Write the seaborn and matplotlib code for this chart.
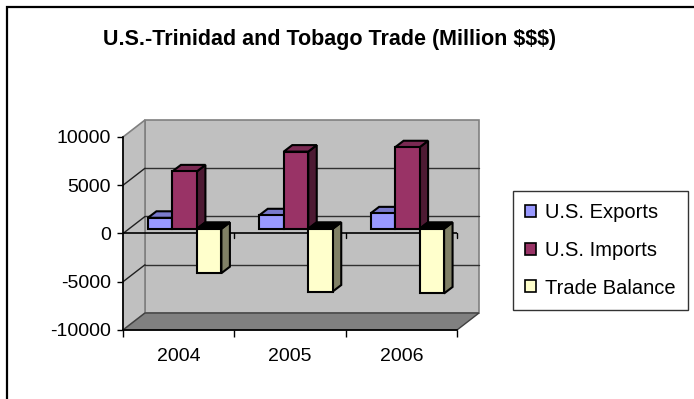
import numpy as np
import pandas as pd
import matplotlib
matplotlib.use("Agg")
import matplotlib.pyplot as plt
from matplotlib.patches import Polygon, Rectangle, Patch
import seaborn as sns

# ---- data -------------------------------------------------------------
years = ["2004", "2005", "2006"]
series = ["U.S. Exports", "U.S. Imports", "Trade Balance"]
exports = [1140, 1400, 1600]
imports = [5950, 8000, 8450]
balance = [-4600, -6500, -6700]
y_ticks = [-10000, -5000, 0, 5000, 10000]
title = "U.S.-Trinidad and Tobago Trade (Million $$$)"

# ---- style --------------------------------------------------------------
face_colors = ["#9999FF", "#993366", "#FFFFCC"]
top_colors = ["#7A7ACC", "#7A2952", "#000000"]
side_colors = ["#4D4D80", "#4D1A33", "#808066"]
wall_color = "#C0C0C0"
floor_color = "#808080"

sns.set_theme(style="white")
plt.rcParams["font.family"] = ["Liberation Sans", "DejaVu Sans"]

W, H = 694, 399
fig = plt.figure(figsize=(W / 100, H / 100), dpi=100)
fig.patch.set_facecolor("white")

# front plane of the 3-D box, in figure pixels
L, R, T, B = 123, 457, 137, 330
ax = fig.add_axes([L / W, 1 - B / H, (R - L) / W, (B - T) / H])
ax.patch.set_visible(False)

df = pd.DataFrame({
    "Year": years * 3,
    "Series": np.repeat(series, len(years)),
    "Value": exports + imports + balance,
})
sns.barplot(data=df, x="Year", y="Value", hue="Series", order=years,
            hue_order=series, palette=face_colors, saturation=1,
            width=0.66, edgecolor="black", linewidth=1.5,
            errorbar=None, legend=False, ax=ax)

xmin, xmax, ymin, ymax = -0.5, 2.5, y_ticks[0], y_ticks[-1]
ax.set_xlim(xmin, xmax)
ax.set_ylim(ymin, ymax)

# pixel -> data conversion for the oblique depth offsets
sx = (xmax - xmin) / (R - L)
sy = (ymax - ymin) / (B - T)
wx, wy = 22 * sx, 17 * sy          # depth of the whole box
bx, by = 6 * sx, 4.7 * sy          # where the bar fronts sit in depth
dx, dy = 8.5 * sx, 6.5 * sy        # depth of each bar

# walls and floor
ax.add_patch(Rectangle((xmin + wx, ymin + wy), xmax - xmin, ymax - ymin,
                       fc=wall_color, ec="#808080", lw=1.2, zorder=0.3,
                       clip_on=False))
ax.add_patch(Polygon([(xmin, ymin), (xmin, ymax), (xmin + wx, ymax + wy),
                      (xmin + wx, ymin + wy)], closed=True, fc=wall_color,
                     ec="#808080", lw=1.2, zorder=0.4, clip_on=False))
ax.add_patch(Polygon([(xmin, ymin), (xmax, ymin), (xmax + wx, ymin + wy),
                      (xmin + wx, ymin + wy)], closed=True, fc=floor_color,
                     ec="#404040", lw=1, zorder=0.5, clip_on=False))

# gridlines on the back wall and their diagonals on the side wall
for v in y_ticks[1:-1]:
    ax.plot([xmin + wx, xmax + wx], [v + wy, v + wy], color="#303030",
            lw=1, zorder=0.6, clip_on=False)
    ax.plot([xmin, xmin + wx], [v, v + wy], color="#202020", lw=1,
            zorder=0.6, clip_on=False)

# category axis at zero, with its tick marks
ax.plot([xmin, xmax], [0, 0], color="black", lw=1.2, zorder=0.8)
for xt in [0.5, 1.5, 2.5]:
    ax.plot([xt, xt], [0, -5 * sy], color="black", lw=1, zorder=0.8,
            clip_on=False)

# turn the flat bars into blocks: front face, top face, side face
bars = []
for k, cont in enumerate(ax.containers):
    for bar in cont:
        bars.append((bar.get_x(), k, bar))
bars.sort(key=lambda t: t[0])
for order, (_, k, bar) in enumerate(bars):
    h = bar.get_height()
    bar.set_x(bar.get_x() + bx)
    bar.set_y(bar.get_y() + by)
    bar.set_clip_on(False)
    bar.set_zorder(3 + 2 * order + 1)
    bar.set_joinstyle("miter")
    xl = bar.get_x()
    xr = xl + bar.get_width()
    yb = min(0, h) + by
    yt = max(0, h) + by
    top = Polygon([(xl, yt), (xr, yt), (xr + dx, yt + dy), (xl + dx, yt + dy)],
                  closed=True, fc=top_colors[k], ec="black", lw=1.5,
                  zorder=3 + 2 * order, clip_on=False, joinstyle="miter")
    side = Polygon([(xr, yb), (xr, yt), (xr + dx, yt + dy), (xr + dx, yb + dy)],
                   closed=True, fc=side_colors[k], ec="black", lw=1.5,
                   zorder=3 + 2 * order, clip_on=False, joinstyle="miter")
    ax.add_patch(side)
    ax.add_patch(top)

# axes, ticks and labels
for s in ["top", "right"]:
    ax.spines[s].set_visible(False)
for s in ["left", "bottom"]:
    ax.spines[s].set_color("black")
    ax.spines[s].set_linewidth(1.2)
    ax.spines[s].set_zorder(2)

ax.set_yticks(y_ticks)
ax.set_yticklabels([str(v) for v in y_ticks])
ax.tick_params(axis="y", left=True, direction="out", length=4.5, width=1,
               color="black", pad=4, labelsize=14, labelcolor="black")
ax.set_xticks([-0.5, 0.5, 1.5, 2.5])
ax.set_xticklabels([])
ax.set_xticks([0, 1, 2], minor=True)
ax.set_xticklabels(years, minor=True)
ax.tick_params(axis="x", which="major", bottom=True, direction="out",
               length=5, width=1, color="black")
ax.tick_params(axis="x", which="minor", bottom=True, length=0, pad=13,
               labelsize=14, labelcolor="black")
ax.set_xlabel("")
ax.set_ylabel("")

fig.text(330 / W, 1 - 40 / H, title, ha="center", va="center",
         fontsize=15.5, fontweight="bold", color="black")

handles = [Patch(facecolor=c, edgecolor="black", linewidth=1.2)
           for c in face_colors]
leg = fig.legend(handles, series, loc="upper left",
                 bbox_to_anchor=(513 / W, 1 - 191 / H), frameon=True,
                 fancybox=False, edgecolor="black", fontsize=14.5,
                 handlelength=0.55, handleheight=0.55, handletextpad=0.45,
                 labelspacing=0.93, borderpad=0.6, borderaxespad=0)
leg.get_frame().set_linewidth(1)
for t in leg.get_texts():
    t.set_color("black")

# chart border
fig.add_artist(Rectangle((7 / W, -0.05), 1.1, 1.05 - 7 / H,
                         transform=fig.transFigure, fill=False,
                         ec="black", lw=1.6))

fig.savefig("out.png", dpi=100)
